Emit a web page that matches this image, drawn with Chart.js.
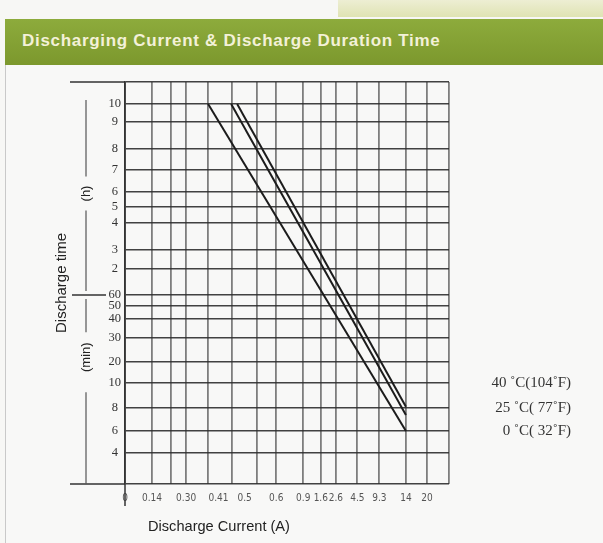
<!DOCTYPE html>
<html><head><meta charset="utf-8">
<script src="https://cdn.jsdelivr.net/npm/chart.js@4.4.0/dist/chart.umd.min.js"></script>
<style>
html,body{margin:0;padding:0;width:603px;height:543px;overflow:hidden;background:#f7f7f5;}
#topstrip{position:absolute;left:338px;top:0;width:265px;height:17px;background:linear-gradient(#edeed3,#dfe3b3);}
#banner{position:absolute;left:5px;top:19px;width:598px;height:46px;background:linear-gradient(#8dab3c,#7c982d);}
#banner span{position:absolute;left:17px;top:12px;font:bold 17px 'Liberation Sans',Arial,sans-serif;letter-spacing:0.7px;color:#f3f1d8;white-space:nowrap;}
#panel{position:absolute;left:5px;top:65px;width:598px;height:478px;border-left:1px solid #c9c9c9;background:#f8f8f7;}
canvas{position:absolute;left:0;top:0;}
</style></head><body>
<div id="topstrip"></div>
<div id="banner"><span>Discharging Current &amp; Discharge Duration Time</span></div>
<div id="panel"></div>
<canvas id="c" width="603" height="543"></canvas>
<script>
// ---- chart values ----
const xGridValues = [0, 0.14, 0.22, 0.30, 0.38, 0.45, 0.55, 0.6, 0.9, 1.6, 2.6, 4.5, 9.3, 14, 20, 26];
const xTickValues = [0, 0.14, 0.30, 0.41, 0.5, 0.6, 0.9, 1.6, 2.6, 4.5, 9.3, 14, 20];
const xTickLabels = ['0', '0.14', '0.30', '0.41', '0.5', '0.6', '0.9', '1.6', '2.6', '4.5', '9.3', '14', '20'];
const minuteTicks = [4, 6, 8, 10, 20, 30, 40, 50, 60];
const hourTicks = [2, 3, 4, 5, 6, 7, 8, 9, 10];
const seriesLabels = ['40 \u02DAC(104\u02DAF)', '25 \u02DAC( 77\u02DAF)', '0 \u02DAC( 32\u02DAF)'];
const current40C = [0.47, 14];
const minutes40C = [600, 8.1];
const current25C = [0.447, 14];
const minutes25C = [600, 7.4];
const current0C = [0.38, 14];
const minutes0C = [600, 6];
const legendAtMinutes = [10, 8, 6];
const yAxisTitle = 'Discharge time';
const xAxisTitle = 'Discharge Current (A)';

// ---- axis layout of the printed (uneven) grid ----
const xGaps = [27, 18.5, 15.5, 22, 24, 25, 19, 27, 17.5, 15, 21.5, 22, 26.5, 21, 22];
const yStops = [0, ...minuteTicks, ...hourTicks.map(h => h * 60), 660];
const yGaps = [31, 22, 23, 25, 21, 24, 19, 13, 11, 26, 19, 27, 16, 15, 22, 21, 27, 18, 22];

class PiecewiseScale extends Chart.LinearScale {
  static id = 'piecewise';
  static defaults = {};
  determineDataLimits() {
    const s = this.options.stops;
    this.min = s[0];
    this.max = s[s.length - 1];
  }
  buildTicks() {
    this.start = this.min;
    this.end = this.max;
    const tv = this.options.tickValues || this.options.stops;
    return tv.map(v => ({ value: v }));
  }
  _decimalFor(value) {
    const s = this.options.stops, g = this.options.gaps;
    const total = g.reduce((a, b) => a + b, 0);
    if (value <= s[0]) return 0;
    let acc = 0;
    for (let i = 0; i < s.length - 1; i++) {
      if (value <= s[i + 1]) return (acc + g[i] * (value - s[i]) / (s[i + 1] - s[i])) / total;
      acc += g[i];
    }
    return 1;
  }
  getPixelForValue(value) {
    if (value === null || value === undefined || isNaN(value)) return NaN;
    return this.getPixelForDecimal(this._decimalFor(value));
  }
  getValueForPixel(pixel) {
    const s = this.options.stops, g = this.options.gaps;
    const total = g.reduce((a, b) => a + b, 0);
    const d = this.getDecimalForPixel(pixel) * total;
    let acc = 0;
    for (let i = 0; i < g.length; i++) {
      if (d <= acc + g[i]) return s[i] + (s[i + 1] - s[i]) * (d - acc) / g[i];
      acc += g[i];
    }
    return s[s.length - 1];
  }
}
Chart.register(PiecewiseScale);

const toPoints = (cs, ms) => cs.map((c, i) => ({ x: c, y: ms[i] }));
const lineStyle = { borderColor: '#1c1c1c', borderWidth: 2, pointRadius: 0, tension: 0, fill: false };

const decor = {
  id: 'decor',
  afterDraw(chart) {
    const { ctx, chartArea: a, scales: { y } } = chart;
    const L = a.left;
    ctx.save();
    ctx.strokeStyle = '#333';
    ctx.lineWidth = 1.5;
    const hline = (v, x0, x1) => { const p = y.getPixelForValue(v); ctx.beginPath(); ctx.moveTo(x0, p); ctx.lineTo(x1, p); ctx.stroke(); };
    const vline = (px, y0, y1) => { ctx.beginPath(); ctx.moveTo(px, y0); ctx.lineTo(px, y1); ctx.stroke(); };
    hline(660, L - 55, L);
    hline(60, L - 53, L - 19);
    hline(0, L - 55, L);
    vline(L, a.bottom, a.bottom + 22);
    // unit brackets
    const bx = L - 39;
    const yh = y.getPixelForValue(354), ym = y.getPixelForValue(22);
    const y60 = y.getPixelForValue(60);
    ctx.lineWidth = 1.2;
    ctx.strokeStyle = '#555';
    vline(bx, a.top + 18, yh - 17);
    vline(bx, yh + 17, y60 - 4);
    vline(bx, y60 + 4, ym - 25);
    vline(bx, ym + 35, a.bottom);
    ctx.fillStyle = '#222';
    ctx.textAlign = 'center';
    ctx.textBaseline = 'middle';
    ctx.font = '13px "Liberation Sans", Arial, sans-serif';
    [['(h)', yh], ['(min)', ym]].forEach(([t, py]) => {
      ctx.save(); ctx.translate(bx, py); ctx.rotate(-Math.PI / 2); ctx.fillText(t, 0, 0); ctx.restore();
    });
    // x axis title
    ctx.font = '14.6px "Liberation Sans", Arial, sans-serif';
    ctx.fillText(xAxisTitle, L + 94, a.bottom + 43);
    // series labels
    ctx.font = '15px "Liberation Serif", "Times New Roman", serif';
    ctx.fillStyle = '#333';
    ctx.textAlign = 'right';
    chart.data.datasets.forEach((ds, i) => {
      ctx.fillText(ds.label, a.right + 122, y.getPixelForValue(legendAtMinutes[i]));
    });
    ctx.restore();
  }
};

new Chart(document.getElementById('c'), {
  type: 'line',
  data: {
    datasets: [
      { label: seriesLabels[0], data: toPoints(current40C, minutes40C), ...lineStyle },
      { label: seriesLabels[1], data: toPoints(current25C, minutes25C), ...lineStyle },
      { label: seriesLabels[2], data: toPoints(current0C, minutes0C), ...lineStyle }
    ]
  },
  options: {
    responsive: false,
    animation: false,
    devicePixelRatio: 1,
    layout: { padding: { left: 50, top: 82, right: 154, bottom: 0 } },
    plugins: { legend: { display: false }, tooltip: { enabled: false } },
    scales: {
      x: {
        type: 'piecewise',
        position: 'bottom',
        weight: 0,
        stops: xGridValues,
        gaps: xGaps,
        afterFit: s => { s.height = 0; },
        grid: { color: 'rgba(95,95,95,0.8)', lineWidth: 1.8, drawTicks: false },
        border: { display: false },
        ticks: { display: false }
      },
      xLabels: {
        type: 'piecewise',
        position: 'bottom',
        axis: 'x',
        weight: 1,
        stops: xGridValues,
        gaps: xGaps,
        tickValues: xTickValues,
        afterFit: s => { s.height = 59; },
        grid: { display: false, drawTicks: false },
        border: { display: false },
        ticks: {
          autoSkip: false, maxRotation: 0, padding: 8, color: '#555',
          font: { family: '"Liberation Sans Narrow", "DejaVu Sans Condensed", sans-serif', size: 10 },
          callback: (v, i) => xTickLabels[i]
        }
      },
      y: {
        type: 'piecewise',
        stops: yStops,
        gaps: yGaps,
        afterFit: s => { s.width = 75; },
        grid: { color: 'rgba(45,45,45,0.9)', lineWidth: 1.6, drawTicks: false },
        border: { display: true, color: '#333', width: 1.8 },
        title: { display: true, text: yAxisTitle, color: '#222', font: { family: '"Liberation Sans", Arial, sans-serif', size: 15 }, padding: { top: 3, bottom: 4 } },
        ticks: {
          autoSkip: false, padding: 4, crossAlign: 'center', color: '#333',
          font: { family: '"Liberation Serif", "Times New Roman", serif', size: 12.5 },
          callback: v => (v === 0 || v === 660) ? '' : String(v > 60 ? v / 60 : v)
        }
      }
    }
  },
  plugins: [decor]
});
</script>
</body></html>
